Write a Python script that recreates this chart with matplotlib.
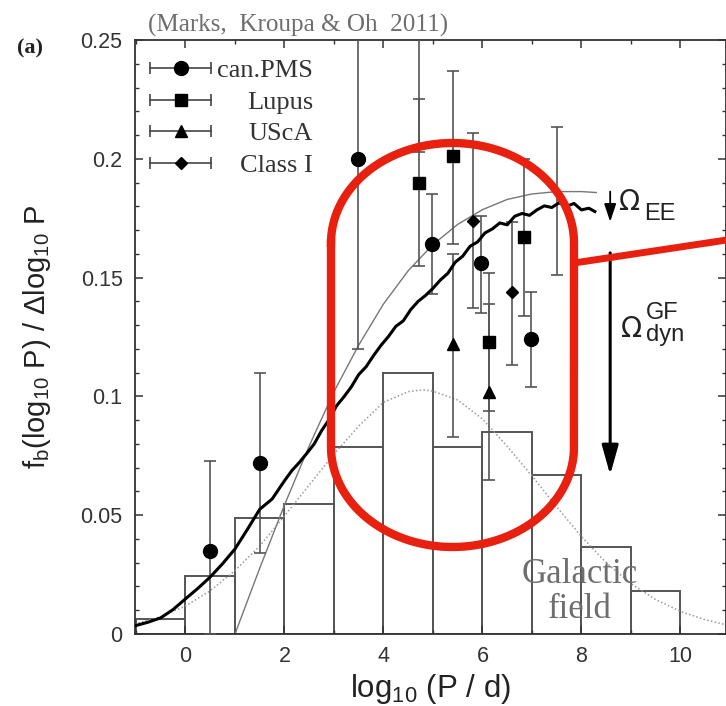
import matplotlib
matplotlib.use('Agg')
import numpy as np
import matplotlib.pyplot as plt
from matplotlib.lines import Line2D

# Galactic field histogram (bin left edges, heights)
field_left = [-1, 0, 1, 2, 3, 4, 5, 6, 7, 8, 9]
field_height = [0.0062, 0.0244, 0.049, 0.0547, 0.0788, 0.110, 0.0788, 0.0851, 0.0669, 0.0367, 0.0182]

# dotted log-normal (Duquennoy & Mayor) curve
dm_x = [-1.1, -0.5, 0.0, 0.5, 1.0, 1.5, 2.0, 2.5, 3.0, 3.5, 4.0, 4.5, 4.8, 5.0, 5.5,
        6.0, 6.5, 7.0, 7.5, 8.0, 8.5, 9.0, 9.5, 10.0, 10.5, 11.0]
dm_y = [0.0038, 0.0073, 0.0118, 0.0182, 0.0267, 0.0370, 0.0497, 0.0627, 0.0757, 0.0875,
        0.0975, 0.1020, 0.1028, 0.1022, 0.0985, 0.0905, 0.0790, 0.0665, 0.0535, 0.0410,
        0.0300, 0.0212, 0.0145, 0.0095, 0.0060, 0.0035]

# thin grey birth period distribution
birth_x = [1.0, 1.5, 2.0, 2.5, 3.0, 3.5, 4.0, 4.5, 5.0, 5.5, 6.0, 6.5, 7.0, 7.5, 8.0, 8.3]
birth_y = [0.0, 0.0277, 0.0543, 0.0792, 0.1020, 0.1216, 0.1389, 0.1529, 0.1639, 0.1724,
           0.1786, 0.1829, 0.1852, 0.1862, 0.1862, 0.1858]

# thick black dynamically evolved curve
dyn_x = [-1.1, -0.75, -0.5, -0.25, 0.0, 0.25, 0.5, 0.75, 1.0, 1.25, 1.5, 1.75, 2.0, 2.15,
         2.3, 2.45, 2.6, 2.75, 2.9, 3.05, 3.2, 3.35, 3.5, 3.65, 3.8, 3.95, 4.1, 4.25, 4.4,
         4.55, 4.7, 4.85, 5.0, 5.15, 5.3, 5.45, 5.6, 5.75, 5.9, 6.05, 6.2, 6.35, 6.5, 6.65,
         6.8, 6.95, 7.1, 7.25, 7.4, 7.55, 7.7, 7.85, 8.0, 8.15, 8.27]
dyn_y = [0.0030, 0.0050, 0.0068, 0.0103, 0.0148, 0.0192, 0.0240, 0.0296, 0.0358, 0.0440,
         0.0525, 0.0568, 0.0645, 0.0688, 0.0722, 0.0760, 0.0800, 0.0856, 0.0902, 0.0960,
         0.0998, 0.1040, 0.1092, 0.1125, 0.1172, 0.1215, 0.1252, 0.1295, 0.1318, 0.1365,
         0.1400, 0.1425, 0.1455, 0.1490, 0.1518, 0.1565, 0.1590, 0.1632, 0.1650, 0.1688,
         0.1705, 0.1730, 0.1722, 0.1758, 0.1770, 0.1762, 0.1785, 0.1802, 0.1795, 0.1815,
         0.1800, 0.1812, 0.1785, 0.1792, 0.1778]

# observations: x, y, lower end, upper end of error bar
pms_x = [0.49, 1.5, 3.49, 4.99, 5.98, 6.98]
pms_y = [0.035, 0.072, 0.200, 0.164, 0.156, 0.124]
pms_lo = [0.0, 0.034, 0.120, 0.143, 0.135, 0.104]
pms_hi = [0.073, 0.110, 0.27, 0.185, 0.176, 0.144]

lupus_x = [4.72, 5.41, 6.14, 6.84]
lupus_y = [0.190, 0.201, 0.123, 0.167]
lupus_lo = [0.155, 0.164, 0.094, 0.134]
lupus_hi = [0.225, 0.237, 0.152, 0.200]

usca_x = [5.41, 6.14]
usca_y = [0.122, 0.102]
usca_lo = [0.083, 0.065]
usca_hi = [0.160, 0.139]

cls1_x = [5.81, 6.59]
cls1_y = [0.174, 0.144]
cls1_lo = [0.137, 0.1132]
cls1_hi = [0.211, 0.1735]

# bars whose markers are off the plot / hidden
extra_x = [4.72, 7.5]
extra_y = [0.23, 0.182]
extra_lo = [0.203, 0.151]
extra_hi = [0.27, 0.2135]

plt.rcParams['font.family'] = ['Liberation Sans', 'DejaVu Sans']
plt.rcParams['mathtext.fontset'] = 'custom'
plt.rcParams['mathtext.rm'] = 'Liberation Sans'
plt.rcParams['mathtext.it'] = 'Liberation Sans:italic'

W, H = 726, 706
fig = plt.figure(figsize=(W / 100, H / 100), dpi=100)
ax = fig.add_axes([135 / W, 72 / H, (W - 135) / W, 594 / H])

ax.bar(field_left, field_height, width=1, align='edge', fill=False,
       edgecolor='#555555', lw=1.4, zorder=1)
ax.plot(dm_x, dm_y, ls=(0, (1, 1.5)), color='#9a9a9a', lw=1.1, zorder=2)
ax.plot(birth_x, birth_y, color='#777777', lw=1.0, zorder=2)

ebkw = dict(color='k', ecolor='#555555', elinewidth=1.2, capsize=4, capthick=1.2, zorder=3)


def err(x, y, lo, hi, fmt, ms):
    x = np.array(x); y = np.array(y)
    yerr = [y - np.array(lo), np.array(hi) - y]
    ax.errorbar(x, y, yerr=yerr, fmt=fmt, ms=ms, **ebkw)


err(extra_x, extra_y, extra_lo, extra_hi, 'none', 0)
err(pms_x, pms_y, pms_lo, pms_hi, 'o', 10)
err(lupus_x, lupus_y, lupus_lo, lupus_hi, 's', 9)
err(usca_x, usca_y, usca_lo, usca_hi, '^', 8)
err(cls1_x, cls1_y, cls1_lo, cls1_hi, 'D', 6)

ax.plot(dyn_x, dyn_y, color='k', lw=2.2, zorder=4)

ax.set_xlim(-1.02, 10.92)
ax.set_ylim(0, 0.25)
ax.set_xticks([0, 2, 4, 6, 8, 10])
ax.set_xticks(range(-1, 11), minor=True)
ax.set_yticks([0, 0.05, 0.1, 0.15, 0.2, 0.25])
ax.set_yticklabels(['0', '0.05', '0.1', '0.15', '0.2', '0.25'])
ax.set_yticks(np.arange(0, 0.251, 0.01), minor=True)
ax.tick_params(which='both', direction='in', top=True, right=True, colors='#333333',
               labelsize=15.5, pad=9)
ax.tick_params(which='major', length=6, width=1.1)
ax.tick_params(which='minor', length=3, width=1.0)
for s in ax.spines.values():
    s.set_color('#333333')
    s.set_linewidth(1.3)

ax.set_xlabel('log$_{10}$ (P / d)', fontsize=22.5, color='#222222', labelpad=3)
ax.set_ylabel(r'f$_\mathrm{b}$(log$_{10}$ P) / $\Delta$log$_{10}$ P', fontsize=21,
              color='#222222', labelpad=20)

# legend drawn by hand (gnuplot style, right-aligned text)
serif = 'Liberation Serif'
leg = [('can.PMS', 'o', 10), ('Lupus', 's', 9), ('UScA', '^', 8), ('Class I', 'D', 6)]
rows_px = [68.3, 100, 131, 163.3]
for (name, mk, ms), py in zip(leg, rows_px):
    fy = (634 - py) / 594
    x0, x1, xm = (150 - 135) / 591, (211 - 135) / 591, (181 - 135) / 591
    ax.plot([x0, x1], [fy, fy], color='#444444', lw=1.2, transform=ax.transAxes, clip_on=False)
    ax.plot([x0, x1], [fy, fy], ls='none', marker='|', ms=8, mew=1.2, color='#444444',
            transform=ax.transAxes, clip_on=False)
    ax.plot([xm], [fy], ls='none', marker=mk, ms=ms, color='k', transform=ax.transAxes)
    ax.text((313 - 135) / 591, (634 - py - 9) / 594, name, transform=ax.transAxes,
            ha='right', va='baseline', fontsize=19, family=serif, color='#333333')

# Omega arrows and labels
ax.annotate('', xy=(8.58, 0.1735), xytext=(8.58, 0.1862),
            arrowprops=dict(arrowstyle='-|>,head_length=0.6,head_width=0.2', color='k',
                            lw=1.3, shrinkA=0, shrinkB=0, mutation_scale=18))
ax.annotate('', xy=(8.58, 0.067), xytext=(8.58, 0.1604),
            arrowprops=dict(arrowstyle='-|>,head_length=1.0,head_width=0.28', color='k',
                            lw=2.2, shrinkA=0, shrinkB=0, mutation_scale=18))
omega_kw = dict(fontsize=20, family='DejaVu Sans', ha='left', va='baseline', color='#222222')
sub_kw = dict(fontsize=17, ha='left', va='baseline', color='#222222')
ax.text(8.75, 0.1785, 'Ω', **omega_kw)
ax.text(9.26, 0.1742, 'EE', **sub_kw)
ax.text(8.79, 0.125, 'Ω', **omega_kw)
ax.text(9.30, 0.1325, 'GF', **sub_kw)
ax.text(9.30, 0.1232, 'dyn', **sub_kw)

ax.text(7.97, 0.0213, 'Galactic', fontsize=25, family=serif, color='#6e6e6e',
        ha='center', va='baseline')
ax.text(7.97, 0.0066, 'field', fontsize=25, family=serif, color='#6e6e6e',
        ha='center', va='baseline')

fig.text(148 / W, 1 - 31.5 / H, '(Marks,  Kroupa & Oh  2011)', fontsize=18.1,
         family=serif, color='#6e6e6e', ha='left', va='baseline')
fig.text(17 / W, 1 - 53 / H, '(a)', fontsize=16, family=serif, weight='bold',
         color='#222222', ha='left', va='baseline')

# red highlight outline (pixel coordinates of the figure)
cx, rx, ry, ytop, ybot = 452.5, 121.5, 100, 143, 547
t = np.linspace(0, np.pi, 80)
px = np.concatenate([cx - rx * np.cos(t), cx + rx * np.cos(t), [cx - rx]])
py = np.concatenate([ytop + ry - ry * np.sin(t), ybot - ry + ry * np.sin(t), [ytop + ry]])
red = '#e8200f'
fig.add_artist(Line2D(px / W, 1 - py / H, transform=fig.transFigure, color=red, lw=6,
                      solid_joinstyle='round', zorder=10))
fig.add_artist(Line2D(np.array([cx + rx, 730]) / W, 1 - np.array([263, 239.5]) / H,
                      transform=fig.transFigure, color=red, lw=5, zorder=10))

fig.savefig('out.png', dpi=100)
